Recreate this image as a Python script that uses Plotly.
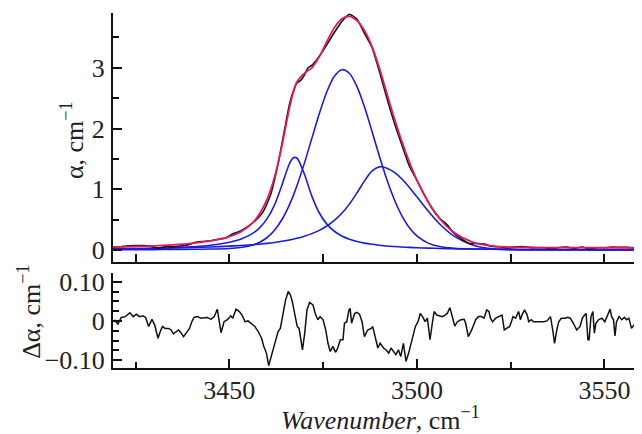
import plotly.graph_objects as go

# ---------------- data ----------------
# Wavenumber grid for fit and components (cm^-1)
WN = [3419, 3425, 3430, 3435, 3440, 3445, 3450, 3453, 3456, 3458, 3460, 3462, 3464, 3466,
      3467, 3468, 3470, 3472, 3474, 3476, 3478, 3480, 3482, 3484, 3486, 3488, 3490, 3492,
      3494, 3496, 3498, 3500, 3503, 3506, 3510, 3515, 3520, 3525, 3530, 3540, 3550, 3560]

COMP1 = [0.018, 0.023, 0.030, 0.040, 0.055, 0.081, 0.129, 0.180, 0.268, 0.363, 0.510, 0.737,
         1.065, 1.417, 1.516, 1.516, 1.252, 0.889, 0.611, 0.428, 0.311, 0.233, 0.180, 0.143,
         0.116, 0.096, 0.081, 0.068, 0.059, 0.051, 0.045, 0.040, 0.033, 0.028, 0.023, 0.019,
         0.015, 0.013, 0.011, 0.008, 0.006, 0.005]

COMP2 = [0.006, 0.008, 0.009, 0.011, 0.014, 0.018, 0.028, 0.044, 0.080, 0.127, 0.204, 0.324,
         0.500, 0.742, 0.889, 1.054, 1.427, 1.838, 2.247, 2.605, 2.860, 2.968, 2.909, 2.694,
         2.363, 1.961, 1.546, 1.161, 0.829, 0.565, 0.370, 0.235, 0.116, 0.059, 0.030, 0.019,
         0.014, 0.011, 0.009, 0.007, 0.005, 0.004]

COMP3 = [0.022, 0.026, 0.030, 0.036, 0.043, 0.052, 0.066, 0.076, 0.089, 0.100, 0.112, 0.127,
         0.146, 0.168, 0.180, 0.195, 0.229, 0.272, 0.326, 0.397, 0.488, 0.606, 0.757, 0.939,
         1.135, 1.299, 1.370, 1.348, 1.278, 1.170, 1.032, 0.877, 0.643, 0.434, 0.226, 0.082,
         0.024, 0.008, 0.004, 0.003, 0.003, 0.003]

FIT = [0.050, 0.060, 0.070, 0.088, 0.113, 0.152, 0.224, 0.300, 0.437, 0.590, 0.826, 1.188,
       1.711, 2.327, 2.585, 2.765, 2.908, 2.999, 3.184, 3.430, 3.659, 3.807, 3.846, 3.776,
       3.614, 3.356, 2.997, 2.577, 2.166, 1.786, 1.447, 1.152, 0.795, 0.525, 0.285, 0.128,
       0.070, 0.050, 0.045, 0.042, 0.040, 0.040]

DATA_X = [3419, 3421, 3423, 3425, 3427, 3429, 3431, 3433, 3435, 3437, 3439, 3441, 3443, 3445,
          3447, 3449, 3451, 3453, 3455, 3457, 3459, 3461, 3463, 3465, 3466, 3467, 3468, 3469,
          3470, 3471, 3472, 3474, 3476, 3478, 3480, 3481, 3482, 3484, 3486, 3488, 3490, 3492,
          3494, 3496, 3498, 3500, 3502, 3504, 3506, 3508, 3510, 3512, 3514, 3516, 3518, 3520,
          3522, 3524, 3526, 3528, 3530, 3532, 3534, 3536, 3538, 3540, 3542, 3544, 3546, 3548,
          3550, 3552, 3554, 3556, 3558, 3560]
DATA_Y = [0.050, 0.055, 0.070, 0.074, 0.075, 0.066, 0.033, 0.060, 0.054, 0.067, 0.087, 0.130,
          0.143, 0.155, 0.180, 0.200, 0.270, 0.315, 0.390, 0.490, 0.630, 0.910, 1.420, 2.070,
          2.390, 2.600, 2.750, 2.790, 2.880, 3.000, 3.040, 3.190, 3.380, 3.580, 3.760, 3.830,
          3.880, 3.800, 3.570, 3.340, 2.940, 2.500, 2.090, 1.730, 1.380, 1.150, 0.910, 0.690,
          0.530, 0.420, 0.270, 0.180, 0.110, 0.110, 0.100, 0.060, 0.055, 0.035, 0.050, 0.060,
          0.045, 0.040, 0.040, 0.020, 0.045, 0.050, 0.030, 0.050, 0.020, 0.040, 0.040, 0.050,
          0.045, 0.045, 0.035, 0.055]

RES_X = [3419.4, 3420.3, 3421.2, 3422.3, 3423.5, 3424.4, 3425.2, 3426.1, 3427.0, 3427.7, 3428.5,
         3429.4, 3430.1, 3431.0, 3431.6, 3432.2, 3432.9, 3433.8, 3434.5, 3435.1, 3435.9, 3436.5,
         3437.1, 3437.8, 3438.5, 3439.4, 3440.0, 3440.6, 3441.5, 3442.4, 3443.3, 3444.2, 3445.1,
         3446.0, 3446.8, 3447.8, 3448.6, 3449.5, 3450.4, 3450.9, 3451.8, 3452.7, 3453.5, 3454.2,
         3455.0, 3455.9, 3456.8, 3457.7, 3458.6, 3459.2, 3459.9, 3460.5, 3461.2, 3462.1, 3463.0,
         3463.6, 3464.3, 3465.0, 3465.7, 3466.3, 3466.8, 3467.4, 3468.1, 3468.6, 3469.0, 3469.5,
         3470.1, 3470.7, 3471.4, 3472.3, 3472.9, 3473.6, 3474.2, 3475.0, 3475.7, 3476.3, 3476.9,
         3477.6, 3478.3, 3478.9, 3479.6, 3480.3, 3480.7, 3481.3, 3481.9, 3482.2, 3482.6, 3483.4,
         3484.0, 3484.7, 3485.4, 3486.0, 3486.9, 3487.8, 3488.2, 3488.9, 3489.6, 3490.2, 3491.1,
         3491.8, 3492.5, 3493.1, 3493.7, 3494.4, 3495.1, 3495.7, 3496.4, 3497.1, 3497.8, 3498.7,
         3499.6, 3500.3, 3500.9, 3501.5, 3502.2, 3502.8, 3503.5, 3504.1, 3504.6, 3505.3, 3505.9,
         3506.8, 3507.5, 3508.1, 3508.8, 3509.5, 3510.1, 3510.8, 3511.7, 3512.6, 3513.0, 3513.7,
         3514.6, 3515.7, 3516.4, 3517.2, 3517.9, 3518.6, 3519.2, 3519.6, 3520.2, 3521.0, 3521.8,
         3522.7, 3523.3, 3524.1, 3524.7, 3525.2, 3525.6, 3526.3, 3526.7, 3527.1, 3527.6, 3528.0,
         3528.7, 3529.4, 3529.8, 3530.5, 3531.1, 3532.0, 3532.9, 3533.8, 3534.7, 3535.6, 3536.2,
         3536.7, 3537.3, 3537.8, 3538.5, 3539.4, 3540.2, 3540.9, 3541.7, 3542.6, 3543.5, 3544.1,
         3544.7, 3545.1, 3545.6, 3545.9, 3546.4, 3546.9, 3547.3, 3547.7, 3548.4, 3549.3, 3550.1,
         3550.9, 3551.5, 3551.9, 3552.4, 3552.8, 3553.2, 3553.9, 3554.6, 3555.3, 3555.9, 3556.5,
         3557.2, 3557.9, 3558.5, 3559.0, 3559.5, 3560.0]
RES_Y = [0.003, -0.008, 0.009, 0.011, 0.021, 0.011, 0.017, 0.011, 0.013, 0.009, -0.014,
         0.004, -0.010, -0.044, -0.027, -0.014, -0.019, -0.019, -0.023, -0.033, -0.027, -0.023,
         -0.030, -0.040, -0.031, -0.019, -0.002, 0.009, 0.011, 0.007, 0.008, 0.009, 0.004,
         0.011, 0.030, -0.030, -0.002, 0.003, 0.013, 0.007, 0.030, 0.024, 0.013, -0.002,
         0.000, -0.006, -0.014, -0.027, -0.044, -0.065, -0.082, -0.114, -0.091, -0.057, -0.027,
         -0.019, 0.019, 0.053, 0.075, 0.066, 0.049, 0.015, -0.014, -0.019, -0.048, -0.074,
         -0.031, 0.028, 0.047, 0.041, 0.019, 0.003, 0.011, 0.003, -0.023, -0.057, -0.078,
         -0.065, -0.080, -0.069, -0.048, -0.048, -0.006, -0.002, 0.028, 0.032, -0.006, 0.019,
         0.022, 0.017, -0.002, -0.040, -0.023, -0.019, -0.014, -0.040, -0.069, -0.057, -0.069,
         -0.074, -0.082, -0.069, -0.078, -0.086, -0.074, -0.091, -0.057, -0.103, -0.082, -0.048,
         -0.014, -0.002, 0.019, 0.011, -0.002, 0.007, -0.048, -0.006, 0.024, 0.015, 0.013,
         0.011, 0.015, 0.019, 0.034, 0.011, -0.013, -0.002, 0.003, 0.004, -0.006, -0.040,
         -0.023, 0.004, 0.011, 0.011, 0.007, 0.028, 0.024, 0.007, -0.002, 0.007, 0.011,
         0.015, -0.023, -0.019, -0.014, -0.002, 0.011, 0.007, 0.015, 0.024, 0.003, 0.015,
         0.028, 0.015, -0.002, 0.003, -0.002, -0.002, -0.003, -0.002, 0.000, 0.011, -0.023,
         -0.057, -0.023, -0.002, 0.007, 0.007, 0.009, 0.007, -0.006, -0.023, -0.014, 0.007,
         0.015, 0.019, -0.048, -0.048, 0.011, 0.024, -0.031, -0.006, 0.003, 0.007, -0.002,
         0.015, 0.030, 0.011, 0.003, -0.038, -0.002, 0.011, 0.003, 0.009, 0.003, 0.007,
         -0.019, -0.010, -0.002, 0.015, 0.019, 0.020]

X_MAJOR = [3450, 3500, 3550]
X_MAJOR_TEXT = ["3450", "3500", "3550"]
X_TOP_TICKS = [3425, 3450, 3475, 3500, 3525, 3550]
Y1_TICKS = [0, 1, 2, 3]
Y2_TICKS = [-0.10, 0, 0.10]
Y2_TICK_TEXT = ["\u22120.10", "0", "0.10"]

# ---------------- styles ----------------
FONT = "Liberation Serif"
TXT = "#222222"
BLUE = "#1c1cd8"
RED = "#e8155f"
BLACK = "#111111"

fig = go.Figure()

for comp in (COMP1, COMP2, COMP3):
    fig.add_trace(go.Scatter(x=WN, y=comp, mode="lines", line=dict(color=BLUE, width=1.6, shape="spline", smoothing=0.8),
                             xaxis="x", yaxis="y", showlegend=False, hoverinfo="skip"))

fig.add_trace(go.Scatter(x=DATA_X, y=DATA_Y, mode="lines", line=dict(color=BLACK, width=1.6, shape="spline", smoothing=0.5),
                         xaxis="x", yaxis="y", showlegend=False, hoverinfo="skip"))
fig.add_trace(go.Scatter(x=WN, y=FIT, mode="lines", line=dict(color=RED, width=1.8, shape="spline", smoothing=0.8),
                         xaxis="x", yaxis="y", showlegend=False, hoverinfo="skip"))

fig.add_trace(go.Scatter(x=RES_X, y=RES_Y, mode="lines", line=dict(color=BLACK, width=1.5),
                         xaxis="x2", yaxis="y2", showlegend=False, hoverinfo="skip"))

axis_common = dict(showline=True, linecolor="#111111", linewidth=2, showgrid=False, zeroline=False,
                   ticks="inside", tickcolor="#111111", tickwidth=1.5, mirror=False,
                   tickfont=dict(family=FONT, size=26, color=TXT))

# the page body adds an 8 px offset, so the figure is 8 px smaller on each axis
fig.update_layout(
    width=634, height=426,
    margin=dict(l=105, r=0, t=5, b=66),
    paper_bgcolor="white", plot_bgcolor="white",
    xaxis=dict(domain=[0, 1], range=[3419, 3560], anchor="y", tickmode="array", tickvals=X_TOP_TICKS,
               ticklen=8, showticklabels=False, **axis_common),
    yaxis=dict(domain=[0.2994, 1], range=[-0.19, 3.9], anchor="x", tickmode="array", tickvals=Y1_TICKS,
               ticklen=9, ticklabelstandoff=1,
               minor=dict(dtick=0.5, tick0=0, ticklen=6, ticks="inside", tickcolor="#111111", tickwidth=1.5),
               **axis_common),
    xaxis2=dict(domain=[0, 1], range=[3419, 3560], anchor="y2", tickmode="array", tickvals=X_MAJOR,
                ticktext=X_MAJOR_TEXT, ticklen=9, ticklabelstandoff=-2,
                minor=dict(dtick=25, tick0=3425, ticklen=6, ticks="inside", tickcolor="#111111", tickwidth=1.5),
                **axis_common),
    yaxis2=dict(domain=[0, 0.2685], range=[-0.12, 0.123], anchor="x2", tickmode="array", tickvals=Y2_TICKS,
                ticktext=Y2_TICK_TEXT, ticklen=9, ticklabelstandoff=1,
                minor=dict(dtick=0.025, tick0=0, ticklen=6, ticks="inside", tickcolor="#111111", tickwidth=1.5),
                **axis_common),
)

fig.add_annotation(text="\u03b1, cm<sup>\u22121</sup>", textangle=-90, xref="paper", yref="paper",
                   x=-0.0775, y=0.642, xanchor="center", yanchor="middle", showarrow=False,
                   font=dict(family=FONT, size=26, color=TXT))
fig.add_annotation(text="\u0394\u03b1, cm<sup>\u22121</sup>", textangle=-90, xref="paper", yref="paper",
                   x=-0.157, y=0.158, xanchor="center", yanchor="middle", showarrow=False,
                   font=dict(family=FONT, size=26, color=TXT))
fig.add_annotation(text="<i>Wavenumber</i>, cm<sup>\u22121</sup>", xref="paper", yref="paper",
                   x=0.5066, y=-0.142, xanchor="center", yanchor="middle", showarrow=False,
                   font=dict(family=FONT, size=26, color=TXT))

fig.write_html("out.html")
